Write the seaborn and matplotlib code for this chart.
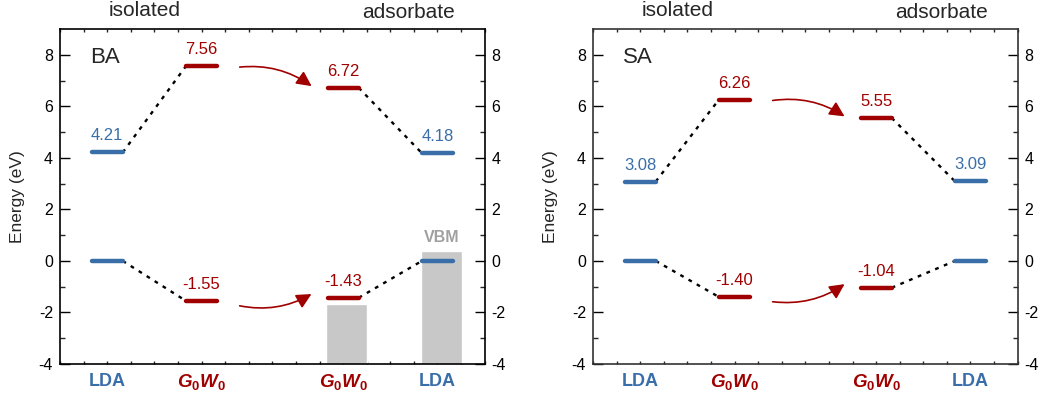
import matplotlib
matplotlib.use("Agg")
import matplotlib.pyplot as plt
import seaborn as sns
import pandas as pd
from matplotlib.patches import FancyArrowPatch

sns.set_theme(style="white")
plt.rcParams['font.family'] = ['Liberation Sans', 'DejaVu Sans']
plt.rcParams['mathtext.fontset'] = 'custom'
plt.rcParams['mathtext.it'] = 'Liberation Sans:italic:bold'
plt.rcParams['mathtext.rm'] = 'Liberation Sans:bold'
plt.rcParams['axes.unicode_minus'] = False

# ---- data ----
categories = ["LDA", "G0W0", "G0W0", "LDA"]
positions = [1, 3, 6, 8]
panels = ["BA", "SA"]
lumo_BA = [4.21, 7.56, 6.72, 4.18]
homo_BA = [0.00, -1.55, -1.43, 0.00]
lumo_SA = [3.08, 6.26, 5.55, 3.09]
homo_SA = [0.00, -1.40, -1.04, 0.00]
vbm_BA = [-1.67, 0.39]          # substrate VBM bars (adsorbate G0W0, LDA)
vbm_pos = [6, 8]
group_labels = ["isolated", "adsorbate"]

BLUE = "#3a6ea8"
RED = "#a00000"
GRAY = "#c8c8c8"
cat_colors = [BLUE, RED, RED, BLUE]

fig = plt.figure(figsize=(10.41, 4.0), dpi=100)
ax1 = fig.add_axes([0.0576, 0.09, 0.408, 0.8375])
ax2 = fig.add_axes([0.5696, 0.09, 0.408, 0.8375])

hw = 0.33  # half width of level lines


def draw_panel(ax, name, lumo, homo, bars=None):
    ax.set_xlim(0, 9)
    ax.set_ylim(-4, 9)
    if bars is not None:
        ax.bar([p + 0.08 for p in vbm_pos], [b - (-4) for b in bars], bottom=-4,
               width=0.87, color=GRAY, zorder=1)
        ax.text(vbm_pos[1] + 0.08, bars[1] + 0.5, "VBM", color="#a0a0a0",
                fontsize=11.5, fontweight="bold", ha="center", va="center")
    # dotted connectors via seaborn
    for levels in (lumo, homo):
        for (i, j) in ((0, 1), (2, 3)):
            df = pd.DataFrame({"x": [positions[i] + hw, positions[j] - hw],
                               "y": [levels[i], levels[j]]})
            sns.lineplot(data=df, x="x", y="y", ax=ax, color="black",
                         lw=1.7, linestyle=(0, (1.6, 2.4)), zorder=2)
    # level lines
    for levels in (lumo, homo):
        for k in range(4):
            ax.plot([positions[k] - hw, positions[k] + hw],
                    [levels[k], levels[k]], color=cat_colors[k], lw=3.2,
                    solid_capstyle="round", zorder=3)
    # value labels
    for k in range(4):
        ax.text(positions[k], lumo[k] + 0.35, f"{lumo[k]:.2f}",
                color=cat_colors[k], fontsize=12, ha="center", va="bottom")
        if homo[k] != 0:
            ax.text(positions[k], homo[k] + 0.35, f"{homo[k]:.2f}",
                    color=cat_colors[k], fontsize=12, ha="center", va="bottom")
    # arrows
    a1 = FancyArrowPatch((3.75, lumo[1] - 0.05), (5.38, lumo[2] + 0.0),
                         connectionstyle="arc3,rad=-0.2",
                         arrowstyle="-|>,head_length=0.9,head_width=0.45",
                         mutation_scale=10, color=RED, lw=1.2, zorder=4)
    a2 = FancyArrowPatch((3.75, homo[1] - 0.17), (5.38, homo[2] + 0.2),
                         connectionstyle="arc3,rad=0.2",
                         arrowstyle="-|>,head_length=0.9,head_width=0.45",
                         mutation_scale=10, color=RED, lw=1.2, zorder=4)
    ax.add_patch(a1)
    ax.add_patch(a2)
    # panel name
    ax.text(0.07, 0.916, name, transform=ax.transAxes, fontsize=16,
            ha="left", va="center")
    # group labels
    ax.text(0.2, 1.04, group_labels[0], transform=ax.transAxes, fontsize=15,
            ha="center", va="baseline")
    ax.text(0.82, 1.033, group_labels[1], transform=ax.transAxes, fontsize=15,
            ha="center", va="baseline")
    # category labels
    for k, c in enumerate(categories):
        if c == "LDA":
            ax.text(positions[k], -0.053, "LDA", transform=ax.get_xaxis_transform(),
                    color=BLUE, fontsize=13, fontweight="bold",
                    ha="center", va="center")
        else:
            ax.text(positions[k], -0.053, r"$\mathit{G_0W_0}$",
                    transform=ax.get_xaxis_transform(),
                    color=RED, fontsize=13.5, ha="center", va="center")
    # axes styling
    ax.set_xlabel("")
    ax.set_ylabel("Energy (eV)", fontsize=12.5, labelpad=10)
    ax.set_yticks([-4, -2, 0, 2, 4, 6, 8])
    ax.set_yticks([-3, -1, 1, 3, 5, 7], minor=True)
    ax.set_xticks([x * 0.5 for x in range(19)])
    ax.set_xticklabels([])
    ax.tick_params(axis="y", which="major", direction="in", length=7, width=1,
                   left=True, right=True, labelleft=True, labelright=True,
                   labelsize=11.5, colors="black", pad=5)
    ax.tick_params(axis="y", which="minor", direction="in", length=3.6, width=1,
                   left=True, right=True)
    ax.tick_params(axis="x", which="major", direction="in", length=2.5, width=1,
                   bottom=True, top=True, labelbottom=False)
    for s in ax.spines.values():
        s.set_visible(True)
        s.set_color("black")
        s.set_linewidth(1.2)


draw_panel(ax1, panels[0], lumo_BA, homo_BA, bars=vbm_BA)
draw_panel(ax2, panels[1], lumo_SA, homo_SA)
for s in ax2.spines.values():
    s.set_color("#333333")

fig.savefig("out.png", dpi=100)
